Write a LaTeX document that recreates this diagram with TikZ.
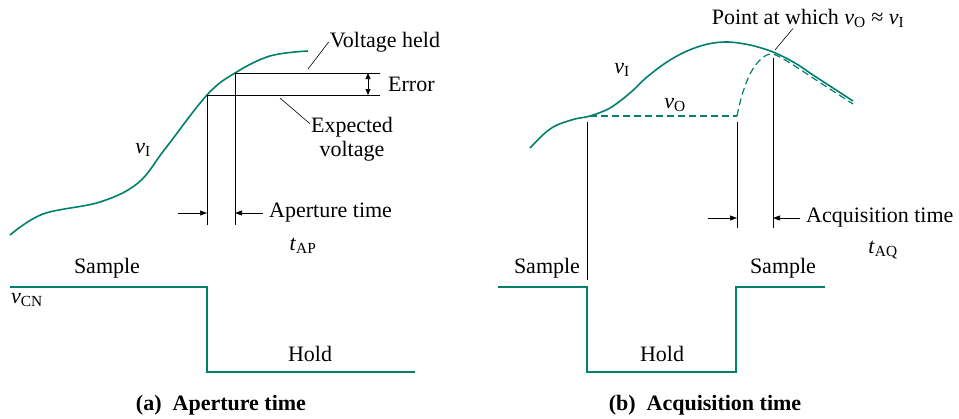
\documentclass[tikz,border=0pt]{standalone}
\usepackage{fontspec}
\setmainfont{Liberation Serif}
\usetikzlibrary{arrows.meta}
\definecolor{wave}{RGB}{0,128,106}
\newcommand{\sig}[2]{\textit{#1}\textsubscript{#2}}

\begin{document}
\begin{tikzpicture}[x=1pt, y=-1pt,
    every node/.style={font=\fontsize{22}{24}\selectfont, inner sep=1pt},
    trace/.style={wave, line width=1.6pt},
    held/.style={wave, line width=1.2pt, dash pattern=on 7pt off 4pt},
    guide/.style={black, line width=0.6pt},
    tip/.style={-{Triangle[length=7pt,width=5pt]}, line width=0.6pt}]
  \useasboundingbox (0,0) rectangle (959,418);
  % (a) aperture time
  \draw[trace] plot[smooth, tension=0.6] coordinates {(10,235) (43,214) (100,202) (138,183) (165,149) (207,95) (235,73) (270,56) (308,51)};
  \coordinate (pe) at (207,95);
  \coordinate (ph) at (235,73);
  \coordinate (per) at (380,95);
  \coordinate (phr) at (380,73);
  \coordinate (peb) at (207,225);
  \coordinate (phb) at (235,225);
  \draw[guide] (ph) -- (phr);
  \draw[guide] (pe) -- (per);
  \draw[guide] (pe) -- (peb);
  \draw[guide] (ph) -- (phb);
  \coordinate (errt) at (368,73);
  \coordinate (errb) at (368,95);
  \draw[guide, {Triangle[length=6pt,width=5pt]}-{Triangle[length=6pt,width=5pt]}] (errt) -- (errb);
  \node[anchor=west] (err) at (387,84) {Error};
  \node (vheld) at (385,42) {Voltage held};
  \coordinate (heldpt) at (308,69);
  \draw[guide] (vheld.west) -- (heldpt);
  \node[align=center] (expv) at (352,139) {Expected\\voltage};
  \coordinate (exppt) at (280,98);
  \draw[guide] (exppt) -- (expv.160);
  \node (vi1) at (143,150) {\sig{v}{I}};
  \coordinate (apl) at (178,213);
  \coordinate (apr) at (263,213);
  \coordinate (ap1) at (207,213);
  \coordinate (ap2) at (235,213);
  \draw[tip] (apl) -- (ap1);
  \draw[tip] (apr) -- (ap2);
  \node[anchor=west] (aptxt) at (268,213) {Aperture time};
  \node (tap) at (303,246) {\sig{t}{AP}};
  \draw[trace] (10,287) -- (207,287) -- (207,372) -- (415,372);
  \node (samp1) at (107,268) {Sample};
  \node[anchor=west] (vcn) at (10,300) {\sig{v}{CN}};
  \node (hold1) at (310,354) {Hold};
  \node (capa) at (221,405) {\textbf{(a)\ \ Aperture time}};
  % (b) acquisition time
  \draw[trace] plot[smooth, tension=0.55] coordinates {(530,148) (545,133) (557,125) (575,119) (590,116) (610,108) (630,93) (647,77) (667,62) (687,51) (708,44) (728,42) (750,45) (773,52) (795,63) (813,75) (833,88) (853,101)};
  \draw[held] (590,116) -- (737,116);
  \draw[held] plot[smooth, tension=0.55] coordinates {(737,116) (742,95) (750,74) (760,60) (772,54) (790,63) (813,78) (833,91) (853,104)};
  \coordinate (s1t) at (587,122);
  \coordinate (s1b) at (587,280);
  \coordinate (s2t) at (737,122);
  \coordinate (s2b) at (737,228);
  \coordinate (s3t) at (773,58);
  \coordinate (s3b) at (773,228);
  \draw[guide] (s1t) -- (s1b);
  \draw[guide] (s2t) -- (s2b);
  \draw[guide] (s3t) -- (s3b);
  \coordinate (aql) at (708,218);
  \coordinate (aqr) at (800,218);
  \coordinate (aq1) at (737,218);
  \coordinate (aq2) at (773,218);
  \draw[tip] (aql) -- (aq1);
  \draw[tip] (aqr) -- (aq2);
  \node[anchor=west] (aqtxt) at (805,218) {Acquisition time};
  \node (taq) at (883,250) {\sig{t}{AQ}};
  \node (point) at (808,18) {Point at which \sig{v}{O} ≈ \sig{v}{I}};
  \coordinate (pointpt) at (775,50);
  \draw[guide] ([xshift=-15pt]point.south) -- (pointpt);
  \node (vi2) at (622,70) {\sig{v}{I}};
  \node (vo2) at (675,105) {\sig{v}{O}};
  \draw[trace] (498,287) -- (587,287) -- (587,372) -- (736,372) -- (736,287) -- (825,287);
  \node (samp2) at (547,268) {Sample};
  \node (samp3) at (783,268) {Sample};
  \node (hold2) at (662,354) {Hold};
  \node (capb) at (705,405) {\textbf{(b)\ \ Acquisition time}};
\end{tikzpicture}
\end{document}
